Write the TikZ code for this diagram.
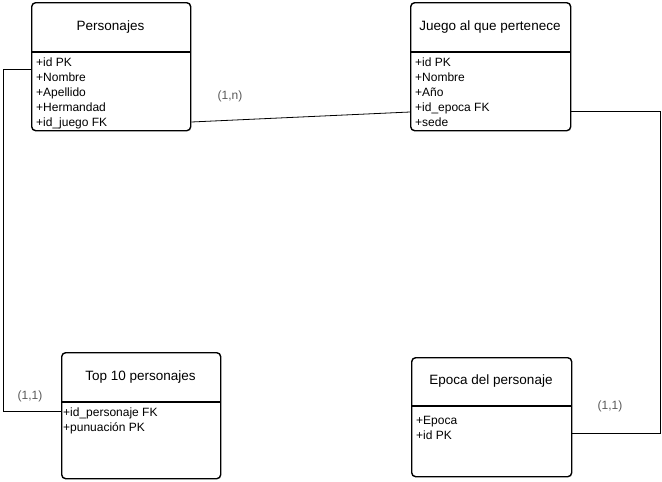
\documentclass[tikz,border=0pt]{standalone}
\usepackage{fontspec}
\setmainfont{Liberation Sans}
\begin{document}
\begin{tikzpicture}[x=1pt,y=-1pt,
  entity/.style={draw, line width=1.4pt, rounded corners=4pt, anchor=north west, inner sep=0pt},
  divider/.style={line width=1.1pt},
  title/.style={font=\fontsize{13.5}{16}\selectfont},
  attr/.style={font=\fontsize{12}{14}\selectfont, anchor=base west, inner sep=0pt},
  link/.style={draw, line width=0.8pt},
  card/.style={font=\fontsize{12}{14}\selectfont, text=black!65}]
\useasboundingbox (0,0) rectangle (662,482);

% Personajes
\node[entity, minimum width=159pt, minimum height=128pt] (pers) at (31,2) {};
\draw[divider] (31,52) -- (190,52);
\node[title] (persT) at (110.5,27) {Personajes};
\node[attr] (pa1) at (36,66) {+id PK};
\node[attr] (pa2) at (36,81) {+Nombre};
\node[attr] (pa3) at (36,96) {+Apellido};
\node[attr] (pa4) at (36,111) {+Hermandad};
\node[attr] (pa5) at (36,126) {+id\_juego FK};

% Juego al que pertenece
\node[entity, minimum width=160pt, minimum height=128pt] (juego) at (410,2) {};
\draw[divider] (410,52) -- (570,52);
\node[title] (juegoT) at (490,27) {Juego al que pertenece};
\node[attr] (ja1) at (415,66) {+id PK};
\node[attr] (ja2) at (415,81) {+Nombre};
\node[attr] (ja3) at (415,96) {+Año};
\node[attr] (ja4) at (415,111) {+id\_epoca FK};
\node[attr] (ja5) at (415,126) {+sede};

% Top 10 personajes
\node[entity, minimum width=159pt, minimum height=126pt] (top) at (61,352) {};
\draw[divider] (61,402) -- (220,402);
\node[title] (topT) at (140.5,377) {Top 10 personajes};
\node[attr] (ta1) at (63,416) {+id\_personaje FK};
\node[attr] (ta2) at (63,431) {+punuación PK};

% Epoca del personaje
\node[entity, minimum width=160pt, minimum height=119pt] (epoca) at (411,357) {};
\draw[divider] (411,406) -- (571,406);
\node[title] (epocaT) at (491,381.5) {Epoca del personaje};
\node[attr] (ea1) at (416,424) {+Epoca};
\node[attr] (ea2) at (416,439) {+id PK};

% Relationships
\coordinate (c1) at (3,69);
\coordinate (c2) at (3,411);
\draw[link] (pers.west |- 0,69) -- (c1) -- (c2) -- (top.west |- 0,411);
\node[card] (l1) at (30,396) {(1,1)};

\draw[link] (pers.east |- 0,122) -- (juego.west |- 0,112);
\node[card] (l2) at (230,96) {(1,n)};

\coordinate (c3) at (660,111);
\coordinate (c4) at (660,433);
\draw[link] (juego.east |- 0,111) -- (c3) -- (c4) -- (epoca.east |- 0,433);
\node[card] (l3) at (610,406) {(1,1)};
\end{tikzpicture}
\end{document}
